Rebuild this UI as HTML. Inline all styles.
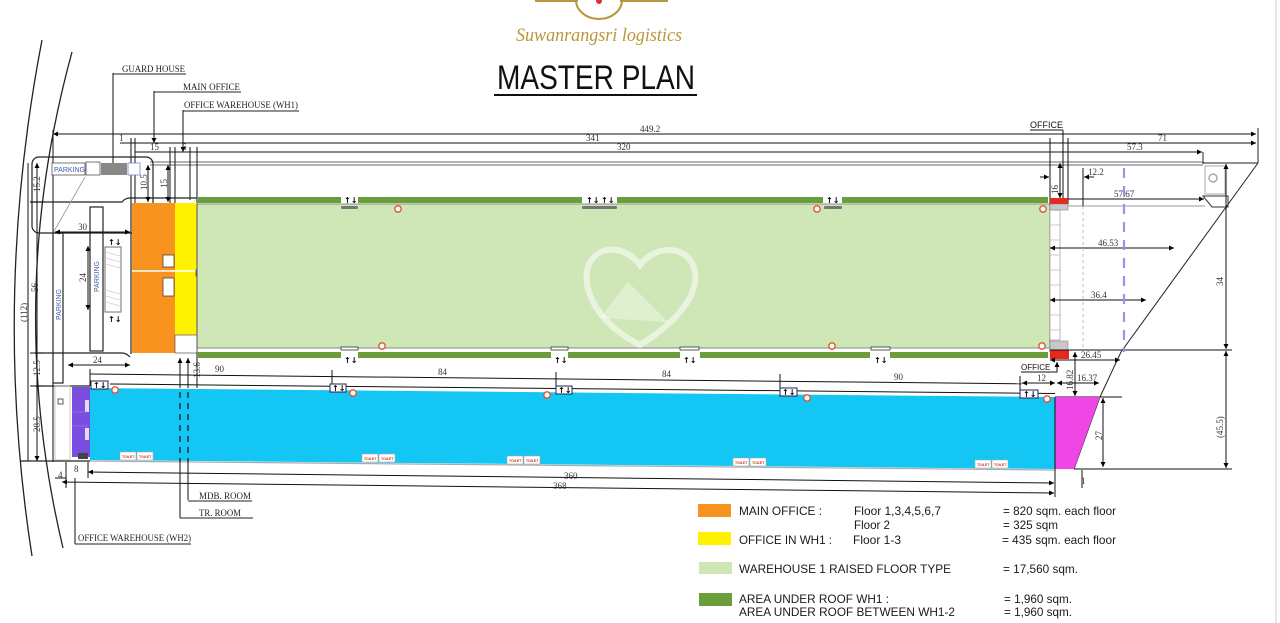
<!DOCTYPE html>
<html><head><meta charset="utf-8"><style>
html,body{margin:0;padding:0;background:#fff;}
svg{display:block;}
.d{font-family:"Liberation Serif",serif;font-size:9px;fill:#333;}
.l{font-family:"Liberation Serif",serif;font-size:9px;fill:#222;}
.g{font-family:"Liberation Sans",sans-serif;font-size:12px;fill:#1a1a1a;}
.ic{font-family:"DejaVu Sans",sans-serif;font-size:8px;font-weight:bold;fill:#000;}
</style></head><body>
<svg width="1280" height="623" viewBox="0 0 1280 623" xmlns="http://www.w3.org/2000/svg">
<defs>
<marker id="a" viewBox="0 0 6 6" refX="6" refY="3" markerWidth="5" markerHeight="5" orient="auto-start-reverse"><path d="M0,0 L6,3 L0,6 z" fill="#000"/></marker>
</defs>
<rect width="1280" height="623" fill="#fff"/>
<line x1="1276" y1="0" x2="1276" y2="623" stroke="#ccc" stroke-width="1"/>

<!-- logo -->
<g fill="none" stroke="#b8963a" stroke-width="2">
<line x1="535" y1="1" x2="578" y2="1"/><line x1="620" y1="1" x2="668" y2="1"/>
<path d="M576,0 A 23 19 0 0 0 622,0"/>
</g>
<circle cx="599" cy="1" r="3" fill="#d33"/>
<text x="516" y="41" font-family="Liberation Serif,serif" font-style="italic" font-size="19" fill="#b8963a" textLength="166" lengthAdjust="spacingAndGlyphs">Suwanrangsri logistics</text>
<text x="497" y="89" font-family="Liberation Sans,sans-serif" font-size="34" fill="#111" textLength="198" lengthAdjust="spacingAndGlyphs">MASTER PLAN</text>
<line x1="494" y1="95" x2="697" y2="95" stroke="#111" stroke-width="2"/>

<!-- left arcs -->
<g fill="none" stroke="#222" stroke-width="1.3">
<path d="M42,40 Q-8,300 32,556"/>
<path d="M72,52 Q4,300 63,548"/>
</g>

<!-- site boundary lines -->
<g stroke="#888" stroke-width="1.2" fill="none">
<line x1="150" y1="162" x2="1203" y2="162"/>
<line x1="150" y1="165" x2="1203" y2="165"/>
</g>
<g stroke="#222" stroke-width="1" fill="none">
<line x1="1203" y1="152" x2="1203" y2="164"/>
<line x1="1203" y1="163" x2="1258" y2="163"/>
<line x1="1258" y1="128" x2="1258" y2="163"/>
<polyline points="1258,163 1121,352 1100,397 1074,469"/>
<rect x="1205" y="166" width="20" height="28" stroke="#aaa"/>
<polygon points="1203,196 1228,196 1228,207 1212,207" stroke="#333"/>
</g>
<circle cx="1213" cy="178" r="4" fill="none" stroke="#aaa" stroke-width="1.5"/>

<!-- top dimension lines -->
<g stroke="#111" stroke-width="1">
<line x1="53" y1="134" x2="1256" y2="134" marker-start="url(#a)" marker-end="url(#a)"/>
<line x1="120" y1="143" x2="1256" y2="143" marker-end="url(#a)"/>
<line x1="135" y1="152" x2="1202" y2="152" marker-end="url(#a)"/>
<line x1="53" y1="130" x2="53" y2="462"/>
<line x1="131" y1="138" x2="131" y2="205"/>
<line x1="135" y1="138" x2="135" y2="205"/>
<line x1="170" y1="147" x2="170" y2="204"/>
<line x1="175" y1="147" x2="175" y2="204"/>
<line x1="190" y1="147" x2="190" y2="200"/>
<line x1="197" y1="147" x2="197" y2="204"/>
<line x1="1050" y1="138" x2="1050" y2="204"/>
<line x1="1068" y1="138" x2="1068" y2="204"/>
<line x1="113" y1="73" x2="113" y2="163"/>
<line x1="154" y1="91" x2="154" y2="143" marker-end="url(#a)"/>
<line x1="183" y1="110" x2="183" y2="152" marker-end="url(#a)"/>
<line x1="1063" y1="130" x2="1063" y2="198"/>
</g>
<text class="d" x="640" y="132">449.2</text>
<text class="d" x="586" y="141">341</text>
<text class="d" x="617" y="150">320</text>
<text class="d" x="1158" y="141">71</text>
<text class="d" x="1127" y="150">57.3</text>
<text class="d" x="119" y="141">1</text>
<text class="d" x="150" y="150">15</text>
<text class="d" x="182" y="150">6</text>

<!-- leader labels top-left -->
<text class="l" x="122" y="72" textLength="63" lengthAdjust="spacingAndGlyphs">GUARD HOUSE</text>
<line x1="113" y1="74" x2="186" y2="74" stroke="#222"/>
<text class="l" x="183" y="90" textLength="57" lengthAdjust="spacingAndGlyphs">MAIN OFFICE</text>
<line x1="154" y1="92" x2="241" y2="92" stroke="#222"/>
<text class="l" x="184" y="108" textLength="114" lengthAdjust="spacingAndGlyphs">OFFICE WAREHOUSE (WH1)</text>
<line x1="183" y1="111" x2="299" y2="111" stroke="#222"/>

<!-- parking top-left -->
<g fill="none" stroke="#222" stroke-width="1.2">
<rect x="32" y="157" width="121" height="76" rx="7"/>
<path d="M30,202 L122,202 Q125,198 130,198 L197,198"/>
<line x1="53" y1="233" x2="85" y2="177" stroke="#999" stroke-width="0.8"/>
<rect x="90" y="207" width="13" height="144"/>
<rect x="53" y="233" width="10" height="150"/>
<rect x="105" y="247" width="16" height="65" stroke="#888"/>
<path d="M35,353 L122,353 Q126,353 130,357"/>
<line x1="35" y1="386" x2="90" y2="386"/>
<line x1="20" y1="461" x2="90" y2="461"/>
<line x1="131" y1="200" x2="131" y2="354"/>
<rect x="55" y="386" width="15" height="74" stroke="#bbb" stroke-width="0.8"/>
<rect x="58" y="399" width="5" height="5" stroke="#333" stroke-width="0.8"/>
</g>
<g stroke="#bbb" stroke-width="0.6">
<line x1="106" y1="252" x2="120" y2="256"/><line x1="106" y1="258" x2="120" y2="262"/><line x1="106" y1="264" x2="120" y2="268"/>
<line x1="106" y1="290" x2="120" y2="294"/><line x1="106" y1="296" x2="120" y2="300"/><line x1="106" y1="302" x2="120" y2="306"/>
</g>
<rect x="106" y="270" width="14" height="17" fill="#fff"/>
<rect x="52" y="163" width="33" height="12" fill="#fff" stroke="#555" stroke-width="0.8"/>
<text x="54" y="172" font-family="Liberation Sans,sans-serif" font-size="7" fill="#3a5db0">PARKING</text>
<rect x="86" y="162" width="14" height="13" fill="#fff" stroke="#555" stroke-width="0.8"/>
<rect x="101" y="163" width="26" height="12" fill="#888"/>
<rect x="128" y="163" width="12" height="12" fill="#fff" stroke="#6a8ad0" stroke-width="0.8"/>
<text transform="translate(99,292) rotate(-90)" font-family="Liberation Sans,sans-serif" font-size="7" fill="#3a5db0">PARKING</text>
<text transform="translate(61,320) rotate(-90)" font-family="Liberation Sans,sans-serif" font-size="7" fill="#3a5db0">PARKING</text>
<text class="ic" x="108" y="245">↑↓</text>
<text class="ic" x="108" y="322">↑↓</text>

<!-- left dims -->
<g stroke="#111" stroke-width="1">
<line x1="28" y1="163" x2="28" y2="461"/>
<line x1="37" y1="163" x2="37" y2="461" marker-start="url(#a)" marker-end="url(#a)"/>
<line x1="30" y1="202" x2="44" y2="202"/><line x1="30" y1="353" x2="44" y2="353"/><line x1="30" y1="386" x2="44" y2="386"/>
<line x1="55" y1="232" x2="130" y2="232" marker-start="url(#a)" marker-end="url(#a)"/>
<line x1="88" y1="246" x2="88" y2="310" marker-start="url(#a)" marker-end="url(#a)"/>
<line x1="68" y1="365" x2="130" y2="365" marker-start="url(#a)" marker-end="url(#a)"/>
<line x1="148" y1="165" x2="148" y2="202" marker-start="url(#a)" marker-end="url(#a)"/>
<line x1="168" y1="165" x2="168" y2="202" marker-start="url(#a)" marker-end="url(#a)"/>
</g>
<text class="d" transform="translate(40,192) rotate(-90)">15.2</text>
<text class="d" transform="translate(38,292) rotate(-90)">56</text>
<text class="d" transform="translate(27,322) rotate(-90)">(112)</text>
<text class="d" transform="translate(40,376) rotate(-90)">12.5</text>
<text class="d" transform="translate(40,432) rotate(-90)">28.5</text>
<text class="d" x="78" y="230">30</text>
<text class="d" transform="translate(86,282) rotate(-90)">24</text>
<text class="d" x="93" y="363">24</text>
<text class="d" transform="translate(147,190) rotate(-90)">10.5</text>
<text class="d" transform="translate(167,188) rotate(-90)">15</text>

<!-- main office / yellow -->
<rect x="132" y="203" width="43" height="150" fill="#f7931e"/>
<rect x="175" y="203" width="22" height="132" fill="#fff200"/>
<rect x="175" y="335" width="22" height="18" fill="#fff" stroke="#555" stroke-width="0.7"/>
<line x1="132" y1="271" x2="197" y2="271" stroke="#fff" stroke-width="1.5"/>
<rect x="163" y="255" width="11" height="12" fill="#fff" stroke="#333" stroke-width="0.7"/>
<rect x="163" y="278" width="11" height="18" fill="#fff" stroke="#333" stroke-width="0.7"/>
<rect x="196" y="270" width="4" height="6" fill="#fff" stroke="#333" stroke-width="0.7"/>

<!-- warehouse 1 -->
<rect x="197" y="204" width="853" height="144" fill="#cfe7b7"/>
<line x1="197" y1="204" x2="1050" y2="204" stroke="#888"/>
<line x1="197" y1="348" x2="1050" y2="348" stroke="#888"/>
<line x1="197" y1="204" x2="197" y2="352" stroke="#555"/>
<line x1="1050" y1="204" x2="1050" y2="352" stroke="#555"/>
<!-- watermark -->
<g fill="none" stroke="#fff" stroke-opacity="0.55" stroke-width="6">
<path d="M640,345 C590,320 580,280 590,262 C600,245 625,245 640,265 C655,245 685,245 693,265 C703,290 680,320 640,345 Z"/>
</g>
<path d="M600,318 L628,282 L668,322 Z" fill="#fff" fill-opacity="0.35"/>
<!-- dark green strips -->
<g fill="#6a9e3a">
<rect x="198" y="197" width="143" height="6"/><rect x="358" y="197" width="224" height="6"/><rect x="617" y="197" width="206" height="6"/><rect x="842" y="197" width="206" height="6"/>
<rect x="198" y="352" width="143" height="6"/><rect x="358" y="352" width="193" height="6"/><rect x="568" y="352" width="112" height="6"/><rect x="700" y="352" width="170" height="6"/><rect x="890" y="352" width="158" height="6"/>
</g>
<g fill="#777">
<rect x="341" y="206" width="17" height="3" rx="1"/><rect x="582" y="206" width="35" height="3" rx="1"/><rect x="824" y="206" width="18" height="3" rx="1"/>
</g>
<g fill="#fff" stroke="#333" stroke-width="0.8">
<rect x="341" y="347" width="17" height="3"/><rect x="551" y="347" width="17" height="3"/><rect x="680" y="347" width="19" height="3"/><rect x="871" y="347" width="19" height="3"/>
</g>
<g class="ic">
<text x="344" y="203">↑↓</text><text x="586" y="203">↑↓</text><text x="601" y="203">↑↓</text><text x="826" y="203">↑↓</text>
<text x="344" y="363">↑↓</text><text x="554" y="363">↑↓</text><text x="683" y="363">↑↓</text><text x="874" y="363">↑↓</text>
</g>
<!-- right ladder -->
<rect x="1050" y="210" width="10" height="130" fill="#fff" stroke="#999" stroke-width="0.7"/>
<g stroke="#aaa" stroke-width="0.6">
<line x1="1050" y1="225" x2="1060" y2="225"/><line x1="1050" y1="240" x2="1060" y2="240"/><line x1="1050" y1="255" x2="1060" y2="255"/><line x1="1050" y1="270" x2="1060" y2="270"/><line x1="1050" y1="285" x2="1060" y2="285"/><line x1="1050" y1="300" x2="1060" y2="300"/><line x1="1050" y1="315" x2="1060" y2="315"/><line x1="1050" y1="330" x2="1060" y2="330"/>
</g>
<rect x="1050" y="198" width="18" height="6" fill="#e8281e"/>
<rect x="1050" y="204" width="18" height="6" fill="#c8c8c8" stroke="#777" stroke-width="0.5"/>
<rect x="1050" y="341" width="18" height="9" fill="#c8c8c8" stroke="#777" stroke-width="0.5"/>
<rect x="1050" y="350" width="19" height="9" fill="#e8281e"/>
<!-- red circles -->
<g fill="#fff" stroke="#e0502a" stroke-width="1.3">
<circle cx="398" cy="209" r="3.2"/><circle cx="817" cy="209" r="3.2"/><circle cx="1043" cy="209" r="3.2"/>
<circle cx="382" cy="346" r="3.2"/><circle cx="832" cy="346" r="3.2"/><circle cx="1042" cy="346" r="3.2"/>
</g>

<!-- right dims -->
<g stroke="#111" stroke-width="1">
<line x1="1068" y1="199" x2="1204" y2="199" marker-end="url(#a)"/>
<line x1="1068" y1="206" x2="1205" y2="206" stroke="#999"/>
<line x1="1083" y1="168" x2="1083" y2="206"/>
<line x1="1040" y1="177" x2="1049" y2="177" marker-end="url(#a)"/>
<line x1="1094" y1="177" x2="1084" y2="177" marker-end="url(#a)"/>
<line x1="1060" y1="163" x2="1060" y2="198" marker-start="url(#a)" marker-end="url(#a)"/>
<line x1="1050" y1="248" x2="1174" y2="248" marker-start="url(#a)" marker-end="url(#a)"/>
<line x1="1050" y1="300" x2="1146" y2="300" marker-start="url(#a)" marker-end="url(#a)"/>
<line x1="1050" y1="350" x2="1232" y2="350"/>
<line x1="1050" y1="360" x2="1120" y2="360" marker-start="url(#a)" marker-end="url(#a)"/>
<line x1="1075" y1="352" x2="1075" y2="396" marker-start="url(#a)" marker-end="url(#a)"/>
<line x1="1057" y1="383" x2="1099" y2="383" marker-start="url(#a)" marker-end="url(#a)"/>
<line x1="1022" y1="383" x2="1055" y2="383" marker-start="url(#a)" marker-end="url(#a)"/>
<line x1="1055" y1="397" x2="1122" y2="397"/>
<line x1="1103" y1="398" x2="1103" y2="467" marker-start="url(#a)" marker-end="url(#a)"/>
<line x1="1074" y1="469" x2="1232" y2="469"/>
<line x1="1226" y1="164" x2="1226" y2="349" marker-start="url(#a)" marker-end="url(#a)"/>
<line x1="1226" y1="351" x2="1226" y2="468" marker-start="url(#a)" marker-end="url(#a)"/>
<line x1="1082" y1="470" x2="1082" y2="488"/>
</g>
<line x1="1083" y1="206" x2="1083" y2="350" stroke="#bbb" stroke-dasharray="3,3"/>
<line x1="1124" y1="168" x2="1124" y2="352" stroke="#a98bef" stroke-width="2.2" stroke-dasharray="10,8"/>
<text class="d" x="1088" y="175">12.2</text>
<text class="d" x="1114" y="197">57.67</text>
<text class="d" x="1098" y="246">46.53</text>
<text class="d" x="1091" y="298">36.4</text>
<text class="d" x="1081" y="358">26.45</text>
<text class="d" x="1077" y="381">16.37</text>
<text class="d" x="1037" y="381">12</text>
<text class="d" transform="translate(1058,194) rotate(-90)">16</text>
<text class="d" transform="translate(1073,390) rotate(-90)">16.82</text>
<text class="d" transform="translate(1102,440) rotate(-90)">27</text>
<text class="d" transform="translate(1223,286) rotate(-90)">34</text>
<text class="d" transform="translate(1223,438) rotate(-90)">(45.5)</text>
<text class="d" x="1081" y="484">1</text>
<text x="1030" y="128" font-family="Liberation Sans,sans-serif" font-size="9" fill="#111">OFFICE</text>
<line x1="1030" y1="130" x2="1063" y2="130" stroke="#111"/>
<text x="1021" y="370" font-family="Liberation Sans,sans-serif" font-size="8" fill="#111">OFFICE</text>
<path d="M1021,372 L1057,372 L1057,362" fill="none" stroke="#111" marker-end="url(#a)"/>

<!-- mid dims -->
<g stroke="#111" stroke-width="1" fill="none">
<line x1="90" y1="374" x2="1022" y2="383.8"/>
<line x1="110" y1="384" x2="1055" y2="393.5"/>
<line x1="90" y1="369" x2="90" y2="386"/>
<line x1="332" y1="370" x2="332" y2="386"/>
<line x1="556" y1="372" x2="556" y2="389"/>
<line x1="780" y1="374" x2="780" y2="392"/>
<line x1="1020" y1="376" x2="1020" y2="395"/>
<line x1="197" y1="352" x2="197" y2="388"/>
<line x1="180" y1="358" x2="180" y2="388" marker-start="url(#a)"/>
<line x1="188" y1="358" x2="188" y2="388" marker-start="url(#a)"/>
</g>
<text class="d" x="215" y="372">90</text>
<text class="d" x="438" y="375">84</text>
<text class="d" x="662" y="377">84</text>
<text class="d" x="894" y="380">90</text>
<text class="d" transform="translate(200,378) rotate(-90)">13.6</text>

<!-- WH2 blue -->
<polygon points="90,388 1055,397 1055,469 90,460" fill="#13c6f4"/>
<polygon points="1055,397 1100,397 1074,469 1055,469" fill="#f046e6"/>
<rect x="72" y="387" width="18" height="70" fill="#7b4de0"/>
<rect x="85" y="400" width="4" height="12" fill="#fff" fill-opacity="0.8"/>
<rect x="85" y="428" width="4" height="12" fill="#fff" fill-opacity="0.8"/>
<line x1="72" y1="412" x2="88" y2="412" stroke="#9a80e8" stroke-width="0.6"/>
<line x1="72" y1="426" x2="88" y2="426" stroke="#9a80e8" stroke-width="0.6"/>
<rect x="78" y="453" width="10" height="6" fill="#444"/>
<line x1="90" y1="461" x2="1055" y2="470" stroke="#aaa" stroke-width="1.2"/>
<!-- blue door notches -->
<g fill="#fff" stroke="#225" stroke-width="1">
<rect x="91" y="381" width="17" height="8"/><rect x="330" y="384" width="16" height="8"/><rect x="556" y="386" width="16" height="8"/><rect x="780" y="388" width="17" height="8"/><rect x="1020" y="390" width="18" height="8"/>
</g>
<g class="ic">
<text x="93" y="388">↑↓</text><text x="332" y="391">↑↓</text><text x="558" y="393">↑↓</text><text x="782" y="395">↑↓</text><text x="1023" y="397">↑↓</text>
</g>
<g fill="#fff" stroke="#e0502a" stroke-width="1.3">
<circle cx="115" cy="390" r="3.2"/><circle cx="353" cy="393" r="3.2"/><circle cx="547" cy="395" r="3.2"/><circle cx="807" cy="398" r="3.2"/><circle cx="1047" cy="399" r="3.2"/>
</g>
<!-- toilets -->
<g fill="#fff" stroke="#aaa" stroke-width="0.6">
<rect x="120" y="452" width="16" height="8"/><rect x="137" y="452" width="16" height="8"/>
<rect x="362" y="454" width="16" height="8"/><rect x="379" y="454" width="16" height="8"/>
<rect x="507" y="456" width="16" height="8"/><rect x="524" y="456" width="16" height="8"/>
<rect x="733" y="458" width="16" height="8"/><rect x="750" y="458" width="16" height="8"/>
<rect x="975" y="460" width="16" height="8"/><rect x="992" y="460" width="16" height="8"/>
</g>
<g font-family="Liberation Sans,sans-serif" font-size="3.5" fill="#d03020" font-weight="bold">
<text x="122" y="458">TOILET</text><text x="139" y="458">TOILET</text>
<text x="364" y="460">TOILET</text><text x="381" y="460">TOILET</text>
<text x="509" y="462">TOILET</text><text x="526" y="462">TOILET</text>
<text x="735" y="464">TOILET</text><text x="752" y="464">TOILET</text>
<text x="977" y="466">TOILET</text><text x="994" y="466">TOILET</text>
</g>
<!-- dashed leaders through blue -->
<g stroke="#111" stroke-width="1.2" stroke-dasharray="6,5">
<line x1="180" y1="392" x2="180" y2="462"/><line x1="188" y1="392" x2="188" y2="462"/>
</g>

<!-- bottom dims -->
<g stroke="#111" stroke-width="1" fill="none">
<line x1="88" y1="472" x2="1054" y2="483" marker-start="url(#a)" marker-end="url(#a)"/>
<line x1="62" y1="482" x2="1054" y2="493" marker-start="url(#a)" marker-end="url(#a)"/>
<line x1="1055" y1="397" x2="1055" y2="497"/>
<line x1="88" y1="462" x2="88" y2="478"/>
<line x1="66" y1="462" x2="66" y2="488"/>
<line x1="55" y1="478" x2="66" y2="478"/>
<line x1="180" y1="462" x2="180" y2="518"/>
<line x1="188" y1="462" x2="188" y2="500"/>
<line x1="75" y1="478" x2="75" y2="544"/>
</g>
<text class="d" x="564" y="479">360</text>
<text class="d" x="553" y="489">368</text>
<text class="d" x="74" y="472">8</text>
<text class="d" x="58" y="478">4</text>

<text class="l" x="199" y="499" textLength="52" lengthAdjust="spacingAndGlyphs">MDB. ROOM</text>
<line x1="188" y1="501" x2="252" y2="501" stroke="#222"/>
<text class="l" x="199" y="516" textLength="42" lengthAdjust="spacingAndGlyphs">TR. ROOM</text>
<line x1="180" y1="518" x2="253" y2="518" stroke="#222"/>
<text class="l" x="78" y="541" textLength="113" lengthAdjust="spacingAndGlyphs">OFFICE WAREHOUSE (WH2)</text>
<line x1="75" y1="544" x2="191" y2="544" stroke="#222"/>

<!-- legend -->
<rect x="698" y="504" width="33" height="13" fill="#f7931e"/>
<rect x="698" y="532" width="33" height="13" fill="#fff200"/>
<rect x="699" y="562" width="33" height="12" fill="#cfe7b7"/>
<rect x="699" y="593" width="33" height="13" fill="#6a9e3a"/>
<text class="g" x="739" y="515" textLength="83" lengthAdjust="spacingAndGlyphs">MAIN OFFICE :</text>
<text class="g" x="854" y="515" textLength="87" lengthAdjust="spacingAndGlyphs">Floor 1,3,4,5,6,7</text>
<text class="g" x="1003" y="515" textLength="113" lengthAdjust="spacingAndGlyphs">= 820 sqm. each floor</text>
<text class="g" x="854" y="529" textLength="36" lengthAdjust="spacingAndGlyphs">Floor 2</text>
<text class="g" x="1003" y="529" textLength="55" lengthAdjust="spacingAndGlyphs">= 325 sqm</text>
<text class="g" x="739" y="544" textLength="93" lengthAdjust="spacingAndGlyphs">OFFICE IN WH1 :</text>
<text class="g" x="853" y="544" textLength="48" lengthAdjust="spacingAndGlyphs">Floor 1-3</text>
<text class="g" x="1002" y="544" textLength="114" lengthAdjust="spacingAndGlyphs">= 435 sqm. each floor</text>
<text class="g" x="739" y="573" textLength="212" lengthAdjust="spacingAndGlyphs">WAREHOUSE 1 RAISED FLOOR TYPE</text>
<text class="g" x="1003" y="573" textLength="75" lengthAdjust="spacingAndGlyphs">= 17,560 sqm.</text>
<text class="g" x="739" y="603" textLength="150" lengthAdjust="spacingAndGlyphs">AREA UNDER ROOF WH1 :</text>
<text class="g" x="1004" y="603" textLength="68" lengthAdjust="spacingAndGlyphs">= 1,960 sqm.</text>
<text class="g" x="739" y="616" textLength="216" lengthAdjust="spacingAndGlyphs">AREA UNDER ROOF BETWEEN WH1-2</text>
<text class="g" x="1004" y="616" textLength="68" lengthAdjust="spacingAndGlyphs">= 1,960 sqm.</text>
</svg>
</body></html>
